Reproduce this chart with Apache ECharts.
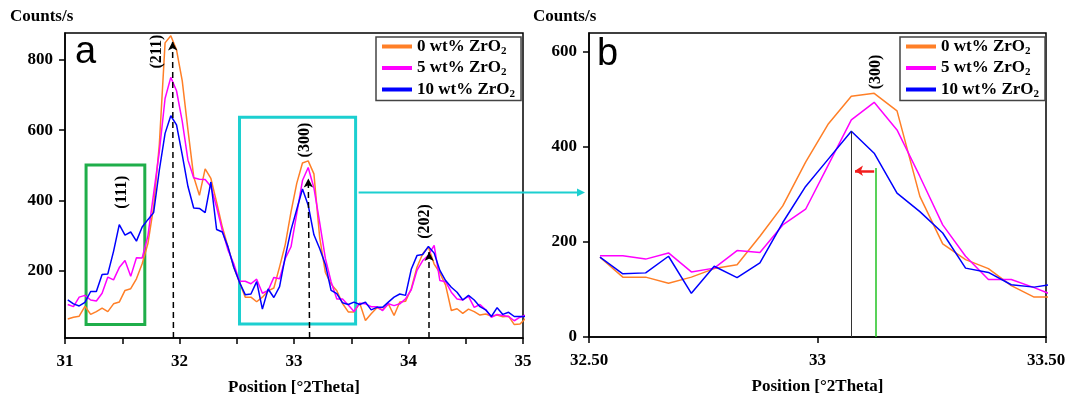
<!DOCTYPE html>
<html>
<head>
<meta charset="utf-8">
<script src="https://cdn.jsdelivr.net/npm/echarts@6/dist/echarts.min.js"></script>
<style>
html, body { margin: 0; padding: 0; background: #fff; }
#chart { width: 1069px; height: 401px; }
</style>
</head>
<body>
<div id="chart"></div>
<script>
// scan positions (°2Theta)
const twoTheta = [
  31.024, 31.074, 31.124, 31.174, 31.224, 31.274, 31.324, 31.374, 31.424, 31.474,
  31.524, 31.574, 31.624, 31.674, 31.724, 31.774, 31.824, 31.874, 31.924, 31.974,
  32.024, 32.074, 32.124, 32.174, 32.224, 32.274, 32.324, 32.374, 32.424, 32.474,
  32.524, 32.574, 32.624, 32.674, 32.724, 32.774, 32.824, 32.874, 32.924, 32.974,
  33.024, 33.074, 33.124, 33.174, 33.224, 33.274, 33.324, 33.374, 33.424, 33.474,
  33.524, 33.574, 33.624, 33.674, 33.724, 33.774, 33.824, 33.874, 33.924, 33.974,
  34.024, 34.074, 34.124, 34.174, 34.224, 34.274, 34.324, 34.374, 34.424, 34.474,
  34.524, 34.574, 34.624, 34.674, 34.724, 34.774, 34.824, 34.874, 34.924, 34.974,
  35.024
];
// counts/s
const zr0 = [
  64, 69, 72, 100, 77, 85, 95, 85, 107, 112,
  145, 150, 178, 221, 278, 382, 560, 848, 868, 828,
  740, 600, 468, 415, 490, 463, 396, 325, 268, 211,
  168, 126, 126, 113, 126, 144, 152, 212, 276, 368,
  449, 507, 513, 476, 296, 196, 163, 144, 108, 84,
  84, 109, 60, 79, 96, 90, 107, 74, 112, 114,
  150, 211, 249, 268, 220, 195, 160, 88, 93, 80,
  92, 85, 75, 78, 72, 75, 70, 72, 48, 50,
  66
];
const zr5 = [
  105, 99, 126, 131, 118, 115, 137, 183, 175, 210,
  230, 185, 238, 237, 300, 420, 540, 690, 750, 712,
  625, 515, 465, 461, 460, 440, 382, 316, 259, 221,
  171, 171, 164, 177, 137, 145, 182, 178, 236, 269,
  363, 457, 494, 436, 338, 236, 170, 121, 121, 104,
  85, 109, 107, 99, 99, 88, 107, 102, 107, 121,
  147, 202, 230, 245, 273, 173, 170, 140, 121, 118,
  128, 97, 105, 90, 69, 77, 74, 71, 59, 69,
  75
];
const zr10 = [
  118, 107, 101, 111, 142, 142, 190, 192, 256, 332,
  302, 311, 285, 325, 346, 366, 487, 591, 641, 615,
  530, 440, 379, 378, 366, 453, 318, 311, 268, 211,
  168, 133, 135, 170, 92, 149, 125, 156, 241, 317,
  375, 433, 387, 303, 264, 219, 145, 136, 110, 105,
  112, 105, 112, 90, 97, 97, 112, 126, 135, 131,
  205, 244, 247, 270, 251, 202, 173, 154, 140, 118,
  131, 118, 99, 90, 71, 96, 77, 83, 71, 71,
  71
];
const seriesNames = ['0 wt% ZrO2', '5 wt% ZrO2', '10 wt% ZrO2'];
const seriesColors = ['#ff7f27', '#ff00ff', '#0000ff'];

const yTicksA = [200, 400, 600, 800];
const xLabelsA = [31, 32, 33, 34, 35];
const yTicksB = [0, 200, 400, 600];
const xLabelsB = { 32.5: '32.50', 33: '33', 33.5: '33.50' };
// zoomed panel b shows scan points 30..50 (32.524 .. 33.524)
const zoomFrom = 30, zoomTo = 51;

const SERIF = '"Liberation Serif", "DejaVu Serif", serif';

function pairs(vals, from, to) {
  return vals.map((v, i) => [twoTheta[i], v]).slice(from, to);
}

const chart = echarts.init(document.getElementById('chart'));

const axisCommon = {
  axisLine: { show: true, onZero: false, lineStyle: { color: '#000', width: 1.5 } },
  axisTick: { show: true, inside: false, length: 6, lineStyle: { color: '#000', width: 1.5 } },
  splitLine: { show: false },
  axisLabel: { color: '#000', fontFamily: SERIF, fontWeight: 'bold', fontSize: 17 }
};

function xAxis(grid, min, max, fmt) {
  return {
    type: 'value', gridIndex: grid, min: min, max: max, interval: 0.5,
    name: 'Position [°2Theta]', nameLocation: 'middle', nameGap: 41,
    nameTextStyle: { color: '#000', fontFamily: SERIF, fontWeight: 'bold', fontSize: 17 },
    axisLine: axisCommon.axisLine, axisTick: axisCommon.axisTick, splitLine: axisCommon.splitLine,
    axisLabel: Object.assign({}, axisCommon.axisLabel, { margin: 15, formatter: fmt, showMinLabel: true, showMaxLabel: true })
  };
}

function yAxis(grid, min, max, ticks) {
  return {
    type: 'value', gridIndex: grid, min: min, max: max,
    axisLine: axisCommon.axisLine,
    axisTick: Object.assign({}, axisCommon.axisTick, { customValues: ticks }),
    splitLine: axisCommon.splitLine,
    axisLabel: Object.assign({}, axisCommon.axisLabel, {
      margin: 12, customValues: ticks,
      formatter: v => ticks.indexOf(v) >= 0 ? String(v) : ''
    })
  };
}

function legend(left) {
  return {
    orient: 'vertical', left: left, top: 37,
    data: seriesNames,
    icon: 'rect', itemWidth: 30, itemHeight: 4, itemGap: 3,
    padding: [1, 6, 1, 6],
    backgroundColor: '#fff', borderColor: '#444', borderWidth: 1.5,
    formatter: n => n.replace(/2$/, '{sub|2}'),
    textStyle: {
      color: '#000', fontFamily: SERIF, fontWeight: 'bold', fontSize: 17, lineHeight: 17,
      rich: { sub: { fontFamily: SERIF, fontWeight: 'bold', fontSize: 11, padding: [9, 0, 0, 0], color: '#000' } }
    },
    selectedMode: false
  };
}

const dashArrow = { color: '#000', width: 1.5, type: [6, 4] };

function lineSeries(idx, grid, data) {
  return {
    name: seriesNames[idx], type: 'line', xAxisIndex: grid, yAxisIndex: grid,
    data: data, showSymbol: false, symbol: 'none', clip: true,
    color: seriesColors[idx],
    lineStyle: { color: seriesColors[idx], width: 1.5 },
    silent: true, animation: false
  };
}

const allVals = [zr0, zr5, zr10];
const series = [];
for (let i = 0; i < 3; i++) series.push(lineSeries(i, 0, pairs(allVals[i], 0, twoTheta.length)));
for (let i = 0; i < 3; i++) series.push(lineSeries(i, 1, pairs(allVals[i], zoomFrom, zoomTo)));

// panel a annotations
series[0].markArea = {
  silent: true,
  data: [
    [{ coord: [31.184, 501], itemStyle: { color: 'rgba(0,0,0,0)', borderColor: '#1fae4a', borderWidth: 3 } },
     { coord: [31.697, 48] }],
    [{ coord: [32.524, 637], itemStyle: { color: 'rgba(0,0,0,0)', borderColor: '#1ccfd0', borderWidth: 3 } },
     { coord: [33.538, 50] }]
  ]
};
series[2].markLine = {
  silent: true, animation: false,
  symbol: ['none', 'arrow'], symbolSize: [7, 9],
  label: { show: false },
  lineStyle: dashArrow,
  data: [
    [{ coord: [31.947, 10] }, { coord: [31.94, 852] }],
    [{ coord: [33.136, 10] }, { coord: [33.125, 463] }],
    [{ coord: [34.18, 10] }, { coord: [34.18, 254] }]
  ]
};
const peakLabelStyle = { color: '#000', fontFamily: SERIF, fontWeight: 'bold', fontSize: 16 };
series[2].markPoint = {
  silent: true, animation: false,
  symbol: 'circle', symbolSize: 0,
  label: Object.assign({ show: true, rotate: 90, formatter: '{b}', position: 'inside' }, peakLabelStyle),
  data: [
    { name: '(211)', coord: [31.804, 823] },
    { name: '(300)', coord: [33.098, 572] },
    { name: '(202)', coord: [34.147, 341] },
    { name: '(111)', coord: [31.498, 424] }
  ]
};

// panel b annotations
series[5].markLine = {
  silent: true, animation: false,
  symbol: ['none', 'none'],
  label: { show: false },
  data: [
    [{ coord: [33.074, 0], lineStyle: { color: '#333', width: 1, type: 'solid' } }, { coord: [33.074, 433] }],
    [{ coord: [33.127, 0], lineStyle: { color: '#22c322', width: 1.5, type: 'solid' } }, { coord: [33.127, 356] }],
    [{ coord: [33.124, 350], lineStyle: { color: '#f21d1d', width: 2.5, type: 'solid' }, symbol: 'none' },
     { coord: [33.082, 350], symbol: 'arrow', symbolSize: [8, 8] }]
  ]
};
series[5].markPoint = {
  silent: true, animation: false,
  symbol: 'circle', symbolSize: 0,
  label: Object.assign({ show: true, rotate: 90, formatter: '{b}', position: 'inside' }, peakLabelStyle),
  data: [{ name: '(300)', coord: [33.127, 558] }]
};

chart.setOption({
  animation: false,
  backgroundColor: '#fff',
  grid: [
    { left: 65, top: 33, width: 458, height: 305, show: true, borderColor: '#000', borderWidth: 1.5, backgroundColor: 'transparent' },
    { left: 589, top: 33, width: 457, height: 304, show: true, borderColor: '#000', borderWidth: 1.5, backgroundColor: 'transparent' }
  ],
  xAxis: [
    xAxis(0, 31, 35, v => xLabelsA.indexOf(v) >= 0 ? String(v) : ''),
    xAxis(1, 32.5, 33.5, v => xLabelsB[v] || '')
  ],
  yAxis: [
    yAxis(0, 10, 876, yTicksA),
    yAxis(1, 0, 640, yTicksB)
  ],
  legend: [legend(376), legend(900)],
  series: series
});

// texts + connecting arrow
const from = chart.convertToPixel({ gridIndex: 0 }, [33.538, 423]);
const toX = 585;
const arrowY = from[1];
chart.setOption({
  graphic: [
    { type: 'text', left: 10, top: 8, style: { text: 'Counts/s', font: 'bold 17px ' + SERIF, fill: '#000' } },
    { type: 'text', left: 533, top: 8, style: { text: 'Counts/s', font: 'bold 17px ' + SERIF, fill: '#000' } },
    { type: 'text', x: 75, y: 53, style: { text: 'a', font: '38px "Liberation Sans", Arial, sans-serif', fill: '#000', verticalAlign: 'middle' } },
    { type: 'text', x: 597, y: 55, style: { text: 'b', font: '38px "Liberation Sans", Arial, sans-serif', fill: '#000', verticalAlign: 'middle' } },
    { type: 'line', shape: { x1: from[0] + 3, y1: arrowY, x2: toX - 6, y2: arrowY }, style: { stroke: '#1ccfd0', lineWidth: 2 } },
    { type: 'polygon', shape: { points: [[toX, arrowY], [toX - 8, arrowY - 4], [toX - 8, arrowY + 4]] }, style: { fill: '#1ccfd0' } }
  ]
});
</script>
</body>
</html>
